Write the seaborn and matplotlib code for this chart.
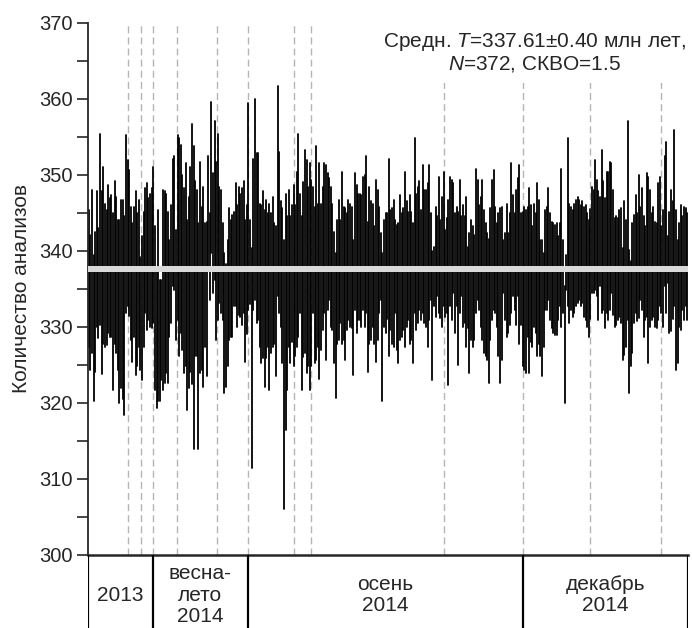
import numpy as np
import pandas as pd
import matplotlib
matplotlib.use("Agg")
import matplotlib.pyplot as plt
import seaborn as sns

# ---------------- data ----------------
high = [
    345.3, 342.1, 348.0, 339.5, 342.5, 347.8, 343.0, 355.4, 347.9, 351.0,
    346.2, 345.4, 348.6, 346.9, 347.3, 344.9, 349.1, 347.1, 344.0, 344.0,
    346.7, 346.7, 344.5, 355.2, 351.9, 350.6, 345.8, 343.6, 345.8, 347.8,
    344.9, 346.7, 339.2, 341.9, 345.1, 348.2, 348.9, 346.9, 347.5, 348.2,
    351.0, 343.2, 337.3, 345.4, 336.2, 336.2,
    348.0, 347.8, 347.5, 345.1, 341.4, 346.0, 352.1, 352.4, 342.7, 355.2,
    354.8, 353.9, 350.0, 348.2, 351.5, 344.0, 347.0, 351.0, 356.7, 353.7,
    349.1, 348.0, 343.6, 351.7, 345.8, 348.4, 343.6, 343.8, 352.4, 344.9,
    359.6, 350.2, 357.0, 351.7, 355.4, 348.4, 348.0, 343.6, 339.7, 338.3,
    341.4, 345.6, 344.0, 344.7, 345.1, 348.9, 346.0,
    348.4, 347.5, 348.2, 349.1, 344.0, 346.0, 359.4, 344.0, 340.3, 352.1,
    360.0, 352.8, 352.8, 346.2, 346.0, 347.8, 345.4, 346.7, 344.9, 346.2,
    344.9, 347.1, 343.6, 343.2, 361.6, 353.0, 346.5, 345.6, 341.4, 347.5,
    344.5, 348.0, 344.5, 346.0, 348.6, 346.0, 350.4, 355.4, 347.5, 344.5,
    349.0, 353.2, 351.9, 348.4, 351.5, 349.3, 348.4,
    345.8, 353.7, 346.2, 351.5, 346.2, 348.4, 351.5, 351.3, 350.2, 349.5,
    348.4, 346.2, 342.5, 339.7, 344.0, 346.7, 344.0, 350.4, 345.8, 345.6,
    344.9, 346.7, 346.2, 345.8, 341.4, 350.2, 348.6, 347.5, 347.5, 347.3,
    349.7, 350.0, 352.4, 343.8, 348.4, 346.5, 346.2, 343.2, 349.3, 348.0,
    345.8, 342.3, 339.7, 344.0, 344.9, 345.0,
    352.1, 345.4, 345.6, 346.7, 344.0, 343.4, 343.6, 347.3, 344.9, 345.6,
    350.4, 346.5, 345.1, 347.3, 345.1, 343.6, 354.8, 347.5, 348.4, 349.1,
    345.4, 351.3, 348.0, 348.0, 348.9, 351.3, 344.9, 339.9, 340.5, 345.8,
    344.5, 349.7, 344.0, 347.0, 350.4, 342.7, 344.3, 346.7, 349.7, 349.3,
    348.9, 344.9, 345.8, 345.1, 349.3, 344.5, 346.0,
    344.5, 347.1, 340.5, 342.3, 344.0, 343.2, 342.1, 350.8, 349.3, 346.0,
    347.1, 349.3, 345.4, 343.6, 342.3, 341.6, 345.6, 349.3, 350.6, 345.8,
    343.6, 344.9, 345.6, 345.8, 341.4, 342.3, 346.2, 342.3, 344.9, 351.5,
    347.3, 344.9, 348.0, 349.5, 351.3, 344.9, 345.1, 345.8, 345.4, 345.8,
    348.2, 346.0, 343.2, 346.2, 344.9, 348.9,
    346.7, 341.4, 341.4, 339.7, 345.4, 345.8, 348.2, 344.9, 343.8, 343.6,
    343.4, 343.6, 341.9, 343.6, 350.8, 341.4, 335.3, 339.4, 354.8, 346.2,
    345.8, 345.4, 346.2, 346.7, 347.1, 346.7, 346.0, 346.5, 345.8, 346.0,
    344.9, 344.0, 345.5, 348.4, 348.0, 351.9, 349.3, 347.8, 347.1, 353.2,
    349.1, 346.9, 350.4, 350.4, 351.7, 351.5, 348.0,
    344.3, 344.5, 344.3, 345.4, 345.6, 340.3, 346.5, 344.0, 357.0, 340.1,
    338.6, 343.6, 344.7, 347.3, 344.9, 350.0, 345.8, 348.2, 344.5, 343.2,
    350.2, 349.7, 348.0, 344.9, 345.8, 343.8, 343.6, 348.9, 349.7, 343.2,
    345.4, 352.4, 354.3, 341.9, 345.1, 348.0, 346.5, 355.9, 345.4, 341.4,
    343.6, 346.0, 344.5, 345.8, 345.6, 344.9,
]
low = [
    327.4, 324.3, 326.5, 320.2, 324.0, 330.0, 328.5, 330.2, 323.8, 327.8,
    327.4, 327.6, 329.2, 328.7, 328.7, 321.7, 327.8, 326.5, 324.3, 320.0,
    322.0, 320.5, 318.4, 331.8, 332.7, 331.4, 328.2, 325.4, 328.7, 323.7,
    324.8, 327.4, 324.3, 323.0, 327.4, 331.8, 329.6, 330.9, 330.0, 329.8,
    330.5, 321.7, 319.3, 320.2, 320.2, 323.0,
    321.7, 322.6, 323.9, 322.6, 328.7, 330.5, 335.3, 334.8, 328.3, 330.9,
    326.1, 329.2, 327.0, 323.9, 324.8, 319.1, 322.0, 324.0, 322.5, 314.0,
    326.1, 326.1, 314.0, 323.9, 324.3, 322.1, 327.4, 323.5, 337.9, 333.5,
    339.7, 334.4, 336.2, 328.3, 330.9, 333.1, 331.8, 330.9, 321.3, 322.1,
    324.8, 328.3, 328.7, 328.7, 332.7, 332.7, 330.0,
    331.6, 331.3, 330.3, 331.8, 325.4, 329.0, 332.2, 333.0, 311.4, 332.2,
    333.5, 330.5, 330.9, 327.4, 325.2, 325.9, 322.1, 325.9, 327.4, 321.7,
    326.5, 327.4, 327.8, 323.5, 334.0, 331.8, 330.0, 325.2, 306.1, 316.4,
    321.7, 327.4, 325.2, 328.0, 324.8, 326.1, 327.4, 328.7, 331.8, 321.7,
    326.0, 326.5, 323.9, 324.8, 321.7, 324.8, 331.8,
    325.2, 325.6, 327.4, 323.2, 327.0, 329.6, 331.8, 325.6, 332.2, 333.5,
    330.0, 329.6, 325.2, 320.6, 327.8, 328.3, 330.5, 327.8, 328.3, 325.6,
    329.6, 330.9, 330.0, 329.8, 323.7, 332.2, 329.2, 330.9, 330.9, 330.0,
    332.2, 330.0, 331.8, 324.1, 327.8, 328.3, 330.0, 327.8, 325.4, 328.3,
    331.8, 333.5, 320.2, 330.0, 329.2, 331.0,
    326.1, 329.6, 327.8, 327.4, 331.8, 327.0, 325.2, 328.3, 328.7, 329.6,
    327.4, 330.0, 330.9, 327.8, 328.3, 325.2, 331.8, 329.6, 330.5, 332.2,
    330.9, 331.8, 330.5, 330.0, 327.4, 330.9, 333.5, 323.0, 332.7, 331.3,
    334.0, 331.8, 331.1, 330.0, 332.7, 331.3, 331.8, 322.4, 332.7, 330.9,
    334.4, 329.2, 332.7, 325.0, 331.8, 334.0, 330.0,
    330.5, 327.4, 329.8, 323.9, 328.3, 327.4, 328.3, 331.8, 333.5, 332.2,
    330.0, 328.3, 326.5, 326.1, 325.6, 322.6, 328.3, 330.9, 332.2, 331.8,
    330.0, 326.1, 322.6, 325.6, 334.4, 330.9, 328.7, 329.2, 330.3, 331.8,
    334.0, 332.2, 330.3, 334.0, 327.8, 330.3, 324.8, 324.3, 323.9, 328.7,
    323.9, 328.0, 327.4, 330.0, 329.2, 326.1,
    327.8, 326.1, 323.5, 327.4, 332.2, 332.2, 333.5, 330.9, 329.8, 329.2,
    328.9, 328.9, 330.9, 332.7, 330.0, 331.8, 320.0, 334.8, 332.7, 330.5,
    332.2, 331.3, 331.8, 332.7, 333.1, 333.5, 332.7, 333.1, 331.3, 330.9,
    330.0, 328.7, 331.0, 334.4, 334.4, 334.8, 334.0, 330.9, 335.3, 331.8,
    332.2, 329.8, 331.8, 330.9, 332.2, 334.4, 331.5,
    330.0, 330.3, 330.9, 331.3, 330.5, 325.6, 326.3, 327.4, 330.9, 321.3,
    324.8, 326.5, 330.5, 331.8, 330.7, 331.1, 333.5, 332.2, 328.7, 330.9,
    331.3, 325.2, 330.0, 330.9, 331.3, 330.0, 329.8, 330.9, 332.7, 331.8,
    330.0, 335.3, 331.8, 335.7, 329.2, 329.4, 331.0, 332.7, 324.3, 325.2,
    330.0, 329.6, 332.2, 330.9, 332.7, 330.9,
]
mean_age = 337.61
mean_err = 0.40
n_analyses = 372
mswd = 1.5
separators = [24.5, 32.5, 39.5, 54.5, 79.5, 98.5, 127.5, 137.5,
              220.5, 269.5, 310.5, 354.5]
period_labels = ["2013", "весна-\nлето\n2014", "осень\n2014", "декабрь\n2014"]
period_edges = [-0.5, 39.5, 98.5, 269.5, 371.5]
yticks_major = [300, 310, 320, 330, 340, 350, 360, 370]
yticks_minor = [305, 315, 325, 335, 345, 355, 365]

# ---------------- style ----------------
sns.set_style("ticks")
plt.rcParams["font.family"] = ["Liberation Sans", "DejaVu Sans"]
plt.rcParams["mathtext.fontset"] = "custom"
plt.rcParams["mathtext.rm"] = "Liberation Sans"
plt.rcParams["mathtext.it"] = "Liberation Sans:italic"

W, H = 692, 628
fig = plt.figure(figsize=(W / 100, H / 100), dpi=100)
x0, x1, ytop, ybot = 88, 688, 22.5, 555
ax = fig.add_axes([x0 / W, 1 - ybot / H, (x1 - x0) / W, (ybot - ytop) / H])

idx = np.arange(len(high))
df = pd.DataFrame({
    "idx": np.concatenate([idx, idx]),
    "age": np.concatenate([np.array(low), np.array(high)]),
})
sns.lineplot(data=df, x="idx", y="age", units="idx", estimator=None,
             color="black", lw=1.3, ax=ax, legend=False, zorder=2)

ax.vlines(separators, 300, 370, colors="#b5b5b5", linestyles=(0, (5, 3)),
          lw=1.0, zorder=1)
ax.axhspan(mean_age - mean_err, mean_age + mean_err, color="#d9d9d9",
           lw=0, zorder=3)

ax.text(0.745, 0.943,
        "Средн. $\\mathit{T}$=%.2f±%.2f млн лет,\n$\\mathit{N}$=%d, СКВО=%.1f"
        % (mean_age, mean_err, n_analyses, mswd),
        transform=ax.transAxes, ha="center", va="center", fontsize=15,
        multialignment="center", linespacing=1.05, zorder=4,
        bbox=dict(facecolor="white", edgecolor="none", pad=6))

ax.set_xlim(-0.5, len(high) - 0.5)
ax.set_ylim(300, 370)
ax.set_yticks(yticks_major)
ax.set_yticks(yticks_minor, minor=True)
ax.set_xticks([])
ax.set_xlabel("")
ax.set_ylabel("Количество анализов", fontsize=15, labelpad=6)
ax.tick_params(axis="y", which="both", length=8, width=1.2, pad=3,
               labelsize=14.5, direction="out")
for s in ["top", "right"]:
    ax.spines[s].set_visible(False)
ax.spines["left"].set_linewidth(1.3)
ax.spines["bottom"].set_linewidth(1.8)

# period table under the axis
tax = fig.add_axes([x0 / W, 0, (x1 - x0) / W, 1 - ybot / H])
tax.set_xlim(-0.5, len(high) - 0.5)
tax.set_ylim(0, 1)
tax.axis("off")
tax.vlines(period_edges, 0, 1, colors="black", lw=1.6)
for a, b, lab in zip(period_edges[:-1], period_edges[1:], period_labels):
    tax.text((a + b) / 2, 0.45, lab, ha="center", va="center",
             fontsize=15, linespacing=1.15)

fig.savefig("out.png", dpi=100)
